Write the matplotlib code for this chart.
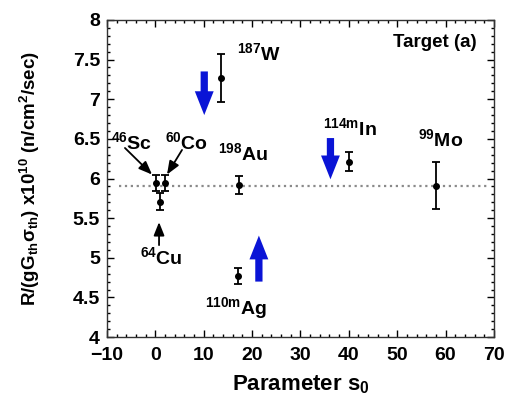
import matplotlib
matplotlib.use("Agg")
import matplotlib.pyplot as plt
from matplotlib.ticker import MultipleLocator

plt.rcParams['font.family'] = ['Liberation Sans', 'DejaVu Sans']
plt.rcParams['font.weight'] = 'bold'
plt.rcParams['mathtext.fontset'] = 'custom'
plt.rcParams['mathtext.rm'] = 'Liberation Sans'
plt.rcParams['mathtext.bf'] = 'Liberation Sans:bold'
plt.rcParams['mathtext.it'] = 'Liberation Sans:italic'
plt.rcParams['mathtext.default'] = 'bf'

# data
isotopes = ['46Sc', '60Co', '64Cu', '187W', '198Au', '110mAg', '114mIn', '99Mo']
s0 = [0.2, 1.9, 0.9, 13.6, 17.3, 17.0, 40.0, 58.1]
ratio = [5.94, 5.94, 5.71, 7.27, 5.92, 4.77, 6.21, 5.91]
err = [0.10, 0.10, 0.11, 0.30, 0.11, 0.10, 0.12, 0.30]
mean_value = 5.9
mean_span = [-7.5, 69.0]

labels = [r'$^{46}$Sc', r'$^{60}$Co', r'$^{64}$Cu', r'$^{187}$W', r'$^{198}$Au',
          r'$^{110m}$Ag', r'$^{114m}$In', r'$^{99}$Mo']
label_x = [-9.2, 2.0, -3.2, 16.9, 12.9, 10.3, 34.65, 54.3]
label_y = [6.46, 6.46, 5.01, 7.58, 6.32, 4.37, 6.64, 6.49]

# black pointer arrows (tail -> head)
ptr_tail = [(-6.3, 6.385), (5.5, 6.36), (0.75, 5.16)]
ptr_head = [(-0.7, 6.05), (2.4, 6.05), (0.75, 5.45)]

# blue arrows (x, y_start, y_end)
blue_x = [10.1, 21.4, 36.2]
blue_y0 = [7.35, 4.70, 6.51]
blue_y1 = [6.80, 5.28, 5.99]

fig = plt.figure(figsize=(5.05, 3.98), dpi=100)
ax = fig.add_axes([0.212, 0.153, 0.766, 0.797])

ax.plot(mean_span, [mean_value, mean_value], linestyle=':', color='#8a8a8a', lw=1.6, zorder=1)
ax.errorbar(s0, ratio, yerr=err, fmt='o', color='black', ms=4, capsize=3,
            elinewidth=1.3, capthick=1.3, zorder=3)

for lab, x, y in zip(labels, label_x, label_y):
    ax.text(x, y, lab, fontsize=14, fontweight='bold', ha='left', va='center')

ax.text(49.1, 7.72, 'Target (a)', fontsize=13.5, fontweight='bold', ha='left', va='center')

for t, h in zip(ptr_tail, ptr_head):
    ax.annotate('', xy=h, xytext=t,
                arrowprops=dict(arrowstyle='-|>,head_length=0.8,head_width=0.32',
                                color='black', lw=1.3, shrinkA=0, shrinkB=0))

for x, y0, y1 in zip(blue_x, blue_y0, blue_y1):
    ax.arrow(x, y0, 0, y1 - y0, width=1.5, head_width=3.9, head_length=0.3,
             length_includes_head=True, color='#0a14d6', ec='none', zorder=2)

ax.set_xlim(-10, 70)
ax.set_ylim(4, 8)
ax.xaxis.set_major_locator(MultipleLocator(10))
ax.xaxis.set_minor_locator(MultipleLocator(2))
ax.yaxis.set_major_locator(MultipleLocator(0.5))
ax.yaxis.set_minor_locator(MultipleLocator(0.1))
ax.tick_params(which='both', direction='in', top=True, right=True, labelsize=14, width=1)
ax.tick_params(which='major', length=5)
ax.tick_params(which='minor', length=2.5)
ax.tick_params(axis='x', pad=7)
ax.tick_params(axis='y', pad=5)
ax.set_yticks([4, 4.5, 5, 5.5, 6, 6.5, 7, 7.5, 8])
ax.set_yticklabels(['4', '4.5', '5', '5.5', '6', '6.5', '7', '7.5', '8'])
for lbl in ax.get_xticklabels() + ax.get_yticklabels():
    lbl.set_fontweight('bold')
for sp in ax.spines.values():
    sp.set_linewidth(1.0)
    sp.set_color('#333333')

ax.set_xlabel(r'Parameter s$_0$', fontsize=16, fontweight='bold', labelpad=7)
ax.set_ylabel(r'R/(gG$_{th}$$\mathrm{\sigma}_{th}$) x10$^{10}$ (n/cm$^{2}$/sec)',
              fontsize=13.5, fontweight='bold', labelpad=22)

fig.savefig('out.png', dpi=100)
